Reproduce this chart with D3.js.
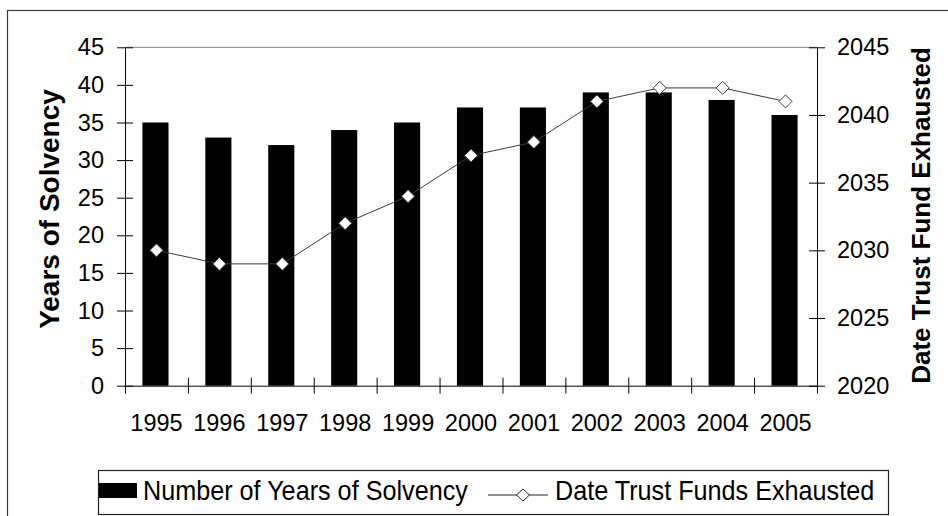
<!DOCTYPE html>
<html>
<head>
<meta charset="utf-8">
<script src="https://cdn.jsdelivr.net/npm/d3@7/dist/d3.min.js"></script>
<style>
  html, body { margin: 0; padding: 0; background: #fff; }
  svg { display: block; font-family: "Liberation Sans", Arial, sans-serif; }
</style>
</head>
<body>
<svg id="chart" width="948" height="516"></svg>
<script>
// Report years on the category axis
const years = ["1995","1996","1997","1998","1999","2000","2001","2002","2003","2004","2005"];
// Years until the trust funds run out, as projected in each report
const solvencyYears = [35, 33, 32, 34, 35, 37, 37, 39, 39, 38, 36];
// Projected year of trust fund exhaustion
const exhaustionDate = [2030, 2029, 2029, 2032, 2034, 2037, 2038, 2041, 2042, 2042, 2041];
// Axis tick values
const leftTicks = [0, 5, 10, 15, 20, 25, 30, 35, 40, 45];
const rightTicks = [2020, 2025, 2030, 2035, 2040, 2045];
const seriesNames = ["Number of Years of Solvency", "Date Trust Funds Exhausted"];

const svg = d3.select("#chart");
const plot = { left: 125, right: 817, top: 47.3, bottom: 385.7 };
const tickFont = "Liberation Sans, Arial, sans-serif";

const x = d3.scaleBand().domain(years).range([plot.left, plot.right]).padding(0);
const xEdge = d3.scaleLinear().domain([0, years.length]).range([plot.left, plot.right]);
const yL = d3.scaleLinear().domain([0, 45]).range([plot.bottom, plot.top]);
const yR = d3.scaleLinear().domain([2020, 2045]).range([plot.bottom, plot.top]);

// chart frame
svg.append("rect")
  .attr("x", 7.5).attr("y", 10.5)
  .attr("width", 960).attr("height", 530)
  .attr("fill", "none").attr("stroke", "#3a3a3a").attr("stroke-width", 1.2);

// top gridline
svg.append("line")
  .attr("x1", plot.left).attr("x2", plot.right)
  .attr("y1", yL(45)).attr("y2", yL(45))
  .attr("stroke", "#808080").attr("stroke-width", 1);

// bars
const barW = x.bandwidth() * 0.415;
svg.append("g").selectAll("rect")
  .data(years)
  .join("rect")
  .attr("x", (d) => x(d) + x.bandwidth() / 2 - barW / 2 - 1)
  .attr("y", (d, i) => yL(solvencyYears[i]))
  .attr("width", barW)
  .attr("height", (d, i) => yL(0) - yL(solvencyYears[i]))
  .attr("fill", "#000");

// left axis
const gL = svg.append("g")
  .attr("transform", `translate(${plot.left},0)`)
  .call(d3.axisLeft(yL).tickValues(leftTicks).tickSize(8).tickSizeOuter(0).tickPadding(13));
gL.selectAll(".tick line").attr("x1", -8).attr("x2", 8).attr("stroke", "#000");
gL.select(".domain").attr("stroke", "#000");
gL.selectAll(".tick text").attr("font-size", 23.5).attr("fill", "#000")
  .attr("font-family", tickFont);

// right axis
const gR = svg.append("g")
  .attr("transform", `translate(${plot.right},0)`)
  .call(d3.axisRight(yR).tickValues(rightTicks).tickSize(8).tickSizeOuter(0).tickPadding(12).tickFormat(d3.format("d")));
gR.selectAll(".tick line").attr("x1", -8).attr("x2", 8).attr("stroke", "#000");
gR.select(".domain").attr("stroke", "#000");
gR.selectAll(".tick text").attr("font-size", 23.5).attr("fill", "#000")
  .attr("font-family", tickFont);

// bottom axis: boundary ticks
const gB = svg.append("g")
  .attr("transform", `translate(0,${plot.bottom})`)
  .call(d3.axisBottom(xEdge).tickValues(d3.range(0, years.length + 1)).tickSize(8).tickSizeOuter(0).tickFormat(""));
gB.selectAll(".tick line").attr("y1", -8).attr("y2", 8).attr("stroke", "#000");
gB.select(".domain").attr("stroke", "#000");

// bottom axis: category labels
const gBL = svg.append("g")
  .attr("transform", `translate(0,${plot.bottom})`)
  .call(d3.axisBottom(x).tickSize(0).tickSizeOuter(0));
gBL.select(".domain").remove();
gBL.selectAll(".tick text")
  .attr("y", 45.3).attr("dy", 0)
  .attr("font-size", 23.5).attr("fill", "#000")
  .attr("font-family", tickFont);

// exhaustion date line
const line = d3.line()
  .x((d, i) => x(years[i]) + x.bandwidth() / 2)
  .y((d) => yR(d));
svg.append("path")
  .datum(exhaustionDate)
  .attr("d", line)
  .attr("fill", "none")
  .attr("stroke", "#3a3a3a")
  .attr("stroke-width", 1);

const diamond = "M0,-6.5L6.5,0L0,6.5L-6.5,0Z";
svg.append("g").selectAll("path")
  .data(exhaustionDate)
  .join("path")
  .attr("transform", (d, i) => `translate(${x(years[i]) + x.bandwidth() / 2},${yR(d)})`)
  .attr("d", diamond)
  .attr("fill", "#fff")
  .attr("stroke", "#3a3a3a")
  .attr("stroke-width", 1);

// axis titles
svg.append("text")
  .attr("transform", "translate(59,209) rotate(-90)")
  .attr("text-anchor", "middle")
  .attr("font-size", 28).attr("font-weight", "bold")
  .text("Years of Solvency");

svg.append("text")
  .attr("transform", `translate(930,${(plot.top + plot.bottom) / 2 - 1}) rotate(-90)`)
  .attr("text-anchor", "middle")
  .attr("font-size", 26).attr("font-weight", "bold")
  .text("Date Trust Fund Exhausted");

// legend
const lg = svg.append("g");
lg.append("rect")
  .attr("x", 98.5).attr("y", 470.5)
  .attr("width", 790).attr("height", 44)
  .attr("fill", "#fff").attr("stroke", "#222").attr("stroke-width", 1.2);
lg.append("rect")
  .attr("x", 99).attr("y", 483)
  .attr("width", 38).attr("height", 15)
  .attr("fill", "#000");
lg.append("text")
  .attr("transform", "translate(143,500) scale(0.9,1)")
  .attr("font-size", 28)
  .text(seriesNames[0]);
lg.append("line")
  .attr("x1", 488).attr("x2", 548).attr("y1", 495).attr("y2", 495)
  .attr("stroke", "#222").attr("stroke-width", 1);
lg.append("path")
  .attr("transform", "translate(523,495)")
  .attr("d", "M0,-6L6.5,0L0,6L-6.5,0Z")
  .attr("fill", "#fff").attr("stroke", "#222").attr("stroke-width", 1);
lg.append("text")
  .attr("transform", "translate(555,500) scale(0.9,1)")
  .attr("font-size", 28)
  .text(seriesNames[1]);
</script>
</body>
</html>
